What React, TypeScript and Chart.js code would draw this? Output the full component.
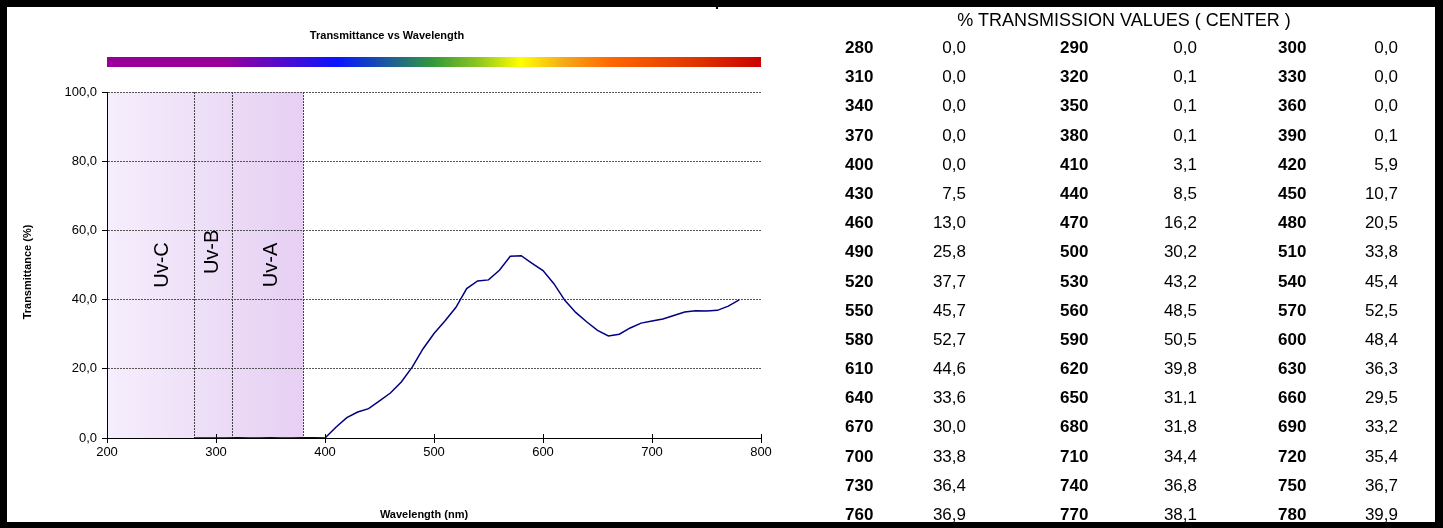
import React, { useEffect, useRef } from "react";
import { Chart, registerables } from "chart.js";

Chart.register(...registerables);

const WAVELENGTHS = [
  280, 290, 300, 310, 320, 330, 340, 350, 360, 370, 380, 390, 400, 410, 420, 430, 440, 450, 460, 470,
  480, 490, 500, 510, 520, 530, 540, 550, 560, 570, 580, 590, 600, 610, 620, 630, 640, 650, 660, 670,
  680, 690, 700, 710, 720, 730, 740, 750, 760, 770, 780,
];
const TRANSMISSION = [
  0.0, 0.0, 0.0, 0.0, 0.1, 0.0, 0.0, 0.1, 0.0, 0.0, 0.1, 0.1, 0.0, 3.1, 5.9, 7.5, 8.5, 10.7, 13.0, 16.2,
  20.5, 25.8, 30.2, 33.8, 37.7, 43.2, 45.4, 45.7, 48.5, 52.5, 52.7, 50.5, 48.4, 44.6, 39.8, 36.3, 33.6, 31.1, 29.5, 30.0,
  31.8, 33.2, 33.8, 34.4, 35.4, 36.4, 36.8, 36.7, 36.9, 38.1, 39.9,
];
const UV_BANDS = [
  { name: "Uv-C", from: 200, to: 280, labelX: 251, labelY: 50 },
  { name: "Uv-B", from: 280, to: 315, labelX: 297, labelY: 53.8 },
  { name: "Uv-A", from: 315, to: 380, labelX: 351, labelY: 50 },
];
const X_TICKS = [200, 300, 400, 500, 600, 700, 800];
const CHART_TITLE = "Transmittance vs Wavelength";
const X_TITLE = "Wavelength (nm)";
const Y_TITLE = "Transmittance (%)";
const TABLE_TITLE = "% TRANSMISSION VALUES ( CENTER )";

const FONT = "'Liberation Sans', Arial, sans-serif";
const fmt = (v: number) => v.toFixed(1).replace(".", ",");

const SPECTRUM_STOPS: [number, string][] = [
  [0, "#990099"],
  [0.18, "#990099"],
  [0.352, "#0a14ff"],
  [0.428, "#1a5aa0"],
  [0.498, "#33993a"],
  [0.57, "#90c820"],
  [0.632, "#ffff00"],
  [0.7, "#f5a818"],
  [0.77, "#ff6600"],
  [0.907, "#dd3300"],
  [1, "#cc0000"],
];

const decorPlugin = {
  id: "decor",
  beforeDraw(chart: any) {
    const { ctx, scales } = chart;
    const x = scales.x;
    const y = scales.y;
    const x0 = x.getPixelForValue(200);
    const x1 = x.getPixelForValue(380);
    const yTop = y.getPixelForValue(100);
    const yBot = y.getPixelForValue(0);
    ctx.save();
    const g = ctx.createLinearGradient(x0, 0, x1, 0);
    g.addColorStop(0, "#f5eefc");
    g.addColorStop(1, "#e6cff3");
    ctx.fillStyle = g;
    ctx.fillRect(x0, yTop, x1 - x0, yBot - yTop);

    // spectrum bar
    const ca = chart.chartArea;
    const sg = ctx.createLinearGradient(ca.left, 0, ca.right, 0);
    SPECTRUM_STOPS.forEach(([p, c]) => sg.addColorStop(p, c));
    ctx.fillStyle = sg;
    ctx.fillRect(ca.left, 57, ca.right - ca.left, 10);

    // titles
    ctx.fillStyle = "#000";
    ctx.font = `bold 11px ${FONT}`;
    ctx.textAlign = "center";
    ctx.textBaseline = "middle";
    ctx.fillText(CHART_TITLE, 387, 36);
    ctx.fillText(X_TITLE, 424, 515);
    ctx.save();
    ctx.translate(28, 272);
    ctx.rotate(-Math.PI / 2);
    ctx.fillText(Y_TITLE, 0, 0);
    ctx.restore();
    ctx.restore();
  },
  beforeDatasetsDraw(chart: any) {
    const { ctx, scales } = chart;
    const x = scales.x;
    const y = scales.y;
    const yTop = y.getPixelForValue(100);
    const yBot = y.getPixelForValue(0);
    ctx.save();
    ctx.strokeStyle = "#444";
    ctx.lineWidth = 1;
    ctx.setLineDash([2, 1]);
    UV_BANDS.forEach((b) => {
      if (b.to <= 200) return;
      const px = Math.round(x.getPixelForValue(b.to)) + 0.5;
      ctx.beginPath();
      ctx.moveTo(px, yTop);
      ctx.lineTo(px, yBot);
      ctx.stroke();
    });
    ctx.setLineDash([]);
    ctx.fillStyle = "#000";
    ctx.font = `20px ${FONT}`;
    ctx.textAlign = "center";
    ctx.textBaseline = "middle";
    UV_BANDS.forEach((b) => {
      ctx.save();
      ctx.translate(x.getPixelForValue(b.labelX), y.getPixelForValue(b.labelY));
      ctx.rotate(-Math.PI / 2);
      ctx.fillText(b.name, 0, 0);
      ctx.restore();
    });
    // x tick marks crossing axis (inner part)
    ctx.strokeStyle = "#000";
    X_TICKS.forEach((t) => {
      const px = Math.round(x.getPixelForValue(t)) + 0.5;
      ctx.beginPath();
      ctx.moveTo(px, yBot - 4);
      ctx.lineTo(px, yBot);
      ctx.stroke();
    });
    ctx.restore();
  },
};

function ChartPanel() {
  const ref = useRef<HTMLCanvasElement | null>(null);
  useEffect(() => {
    if (!ref.current) return;
    const chart = new Chart(ref.current, {
      type: "line",
      data: {
        datasets: [
          {
            label: "Transmittance",
            data: WAVELENGTHS.map((w, i) => ({ x: w, y: TRANSMISSION[i] })),
            borderColor: "#000080",
            borderWidth: 1.5,
            pointRadius: 0,
            tension: 0,
            fill: false,
          },
        ],
      },
      options: {
        animation: false,
        responsive: false,
        maintainAspectRatio: false,
        events: [],
        layout: { padding: { left: 8, top: 92, right: 59, bottom: 30 } },
        plugins: { legend: { display: false }, tooltip: { enabled: false }, title: { display: false } },
        scales: {
          x: {
            type: "linear",
            min: 200,
            max: 800,
            afterBuildTicks: (s: any) => {
              s.ticks = X_TICKS.map((v) => ({ value: v }));
            },
            afterFit: (s: any) => {
              s.height = 60;
            },
            ticks: { color: "#000", font: { family: FONT, size: 13 }, padding: 2, maxRotation: 0 },
            grid: { drawOnChartArea: false, drawTicks: true, tickLength: 5, tickColor: "#000" },
            border: { color: "#000", width: 1 },
          },
          y: {
            min: 0,
            max: 100,
            ticks: {
              stepSize: 20,
              color: "#000",
              font: { family: FONT, size: 13 },
              padding: 5,
              callback: (v: any) => fmt(Number(v)),
            },
            afterFit: (s: any) => {
              s.width = 99;
            },
            grid: { color: "#555", lineWidth: 1, drawTicks: true, tickLength: 5, tickColor: "#000" },
            border: { color: "#000", width: 1, dash: [2, 1] },
          },
        },
      },
      plugins: [decorPlugin],
    } as any);
    return () => chart.destroy();
  }, []);
  return (
    <canvas
      ref={ref}
      width={820}
      height={528}
      style={{ position: "absolute", left: 0, top: 0, width: 820, height: 528 }}
    />
  );
}

function ValueTable() {
  const rows: number[][] = [];
  for (let i = 0; i < WAVELENGTHS.length; i += 3) rows.push([i, i + 1, i + 2]);
  const rowY0 = 48;
  const rowStep = 29.19;
  const colLeft = [845, 1060, 1278];
  const colRight = [966, 1197, 1398];
  const cells: React.ReactNode[] = [];
  rows.forEach((r, ri) => {
    const cy = rowY0 + ri * rowStep;
    r.forEach((idx, ci) => {
      if (idx >= WAVELENGTHS.length) return;
      cells.push(
        <div
          key={`w${idx}`}
          style={{
            position: "absolute",
            left: colLeft[ci],
            top: cy - 10,
            height: 20,
            lineHeight: "20px",
            fontWeight: "bold",
            fontSize: 17,
          }}
        >
          {WAVELENGTHS[idx]}
        </div>
      );
      cells.push(
        <div
          key={`v${idx}`}
          style={{
            position: "absolute",
            left: colRight[ci] - 100,
            width: 100,
            textAlign: "right",
            top: cy - 10,
            height: 20,
            lineHeight: "20px",
            fontSize: 17,
          }}
        >
          {fmt(TRANSMISSION[idx])}
        </div>
      );
    });
  });
  return (
    <div style={{ position: "absolute", left: 0, top: 0, width: 1443, height: 528, fontFamily: FONT, color: "#000" }}>
      <div
        style={{
          position: "absolute",
          left: 874,
          width: 500,
          top: 10,
          height: 20,
          lineHeight: "20px",
          textAlign: "center",
          fontSize: 18,
        }}
      >
        {TABLE_TITLE}
      </div>
      {cells}
    </div>
  );
}

export default function App() {
  return (
    <div
      style={{
        position: "fixed",
        left: 0,
        top: 0,
        width: 1443,
        height: 528,
        background: "#fff",
        overflow: "hidden",
      }}
    >
      <ChartPanel />
      <ValueTable />
      <div style={{ position: "absolute", left: 0, top: 0, width: 1443, height: 7, background: "#000" }} />
      <div style={{ position: "absolute", left: 0, top: 0, width: 7, height: 528, background: "#000" }} />
      <div style={{ position: "absolute", left: 1435, top: 0, width: 8, height: 528, background: "#000" }} />
      <div style={{ position: "absolute", left: 0, top: 522, width: 1443, height: 6, background: "#000" }} />
      <div style={{ position: "absolute", left: 716, top: 0, width: 2, height: 9, background: "#000" }} />
    </div>
  );
}
